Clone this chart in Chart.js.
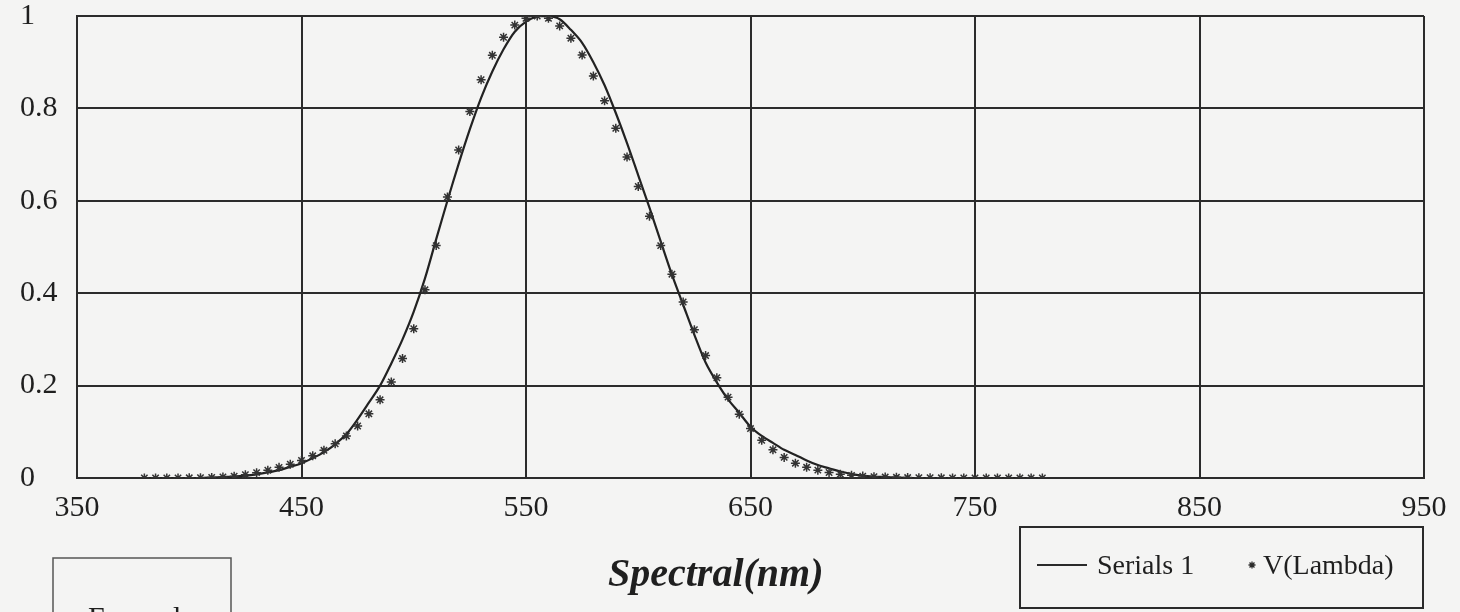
<!DOCTYPE html>
<html><head><meta charset="utf-8">
<script src="https://cdn.jsdelivr.net/npm/chart.js@4/dist/chart.umd.min.js"></script>
<style>html,body{margin:0;padding:0;background:#f4f4f3;}#wrap{width:1460px;height:612px;position:relative;}</style>
</head><body><div id="wrap"><canvas id="c" width="1460" height="612"></canvas></div>
<script>
const wavelengths = [380,385,390,395,400,405,410,415,420,425,430,435,440,445,450,455,460,465,470,475,480,485,490,495,500,505,510,515,520,525,530,535,540,545,550,555,560,565,570,575,580,585,590,595,600,605,610,615,620,625,630,635,640,645,650,655,660,665,670,675,680,685,690,695,700,705,710,715,720,725,730,735,740,745,750,755,760,765,770,775,780];
const serials1 = [0,0,0,0,0,0,
0.001,0.002,0.003,0.005,0.008,0.012,0.017,0.024,0.032,0.043,
0.056,0.073,0.095,0.127,0.163,0.2,0.248,0.3,0.36,0.432,
0.517,0.6,0.68,0.755,0.823,0.88,0.928,0.966,0.988,0.999,
1.0,0.993,0.97,0.942,0.9,0.85,0.79,0.725,0.655,0.585,
0.512,0.44,0.375,0.31,0.25,0.207,0.17,0.141,0.111,0.091,
0.076,0.061,0.05,0.038,0.028,0.021,0.014,0.009,0.005,0.003,
0.002,0.001,
0,0,0,0,0,0,0,0,0,0,0,0,0];
const vLambda = [0.00004,0.00006,0.00012,0.00022,0.0004,0.00064,0.0012,0.0022,0.004,0.0073,
0.0116,0.0168,0.023,0.0298,0.038,0.048,0.06,0.0739,0.091,0.1126,
0.139,0.1693,0.208,0.2586,0.323,0.4073,0.503,0.6082,0.71,0.7932,
0.862,0.9149,0.954,0.9803,0.995,1.0,0.995,0.9786,0.952,0.9154,
0.87,0.8163,0.757,0.6949,0.631,0.5668,0.503,0.4412,0.381,0.321,
0.265,0.217,0.175,0.1382,0.107,0.0816,0.061,0.0446,0.032,0.0232,
0.017,0.0119,0.0082,0.0057,0.0041,0.0029,0.0021,0.0015,0.001,0.0007,
0.0005,0.0004,0.0002,0.0002,0.0001,0.0001,0.0001,0,0,0,
0];
const xTicks = [350,450,550,650,750,850,950];
const yTicks = [0,0.2,0.4,0.6,0.8,1];
const seriesNames = ['Serials 1','V(Lambda)'];
const axisTitle = 'Spectral(nm)';
const boxLabel = 'Example';

const INK = '#1f1f1f';
const FONT = '"Liberation Serif", "Times New Roman", serif';

const paper = {
  id: 'paper',
  beforeDraw(chart) {
    const {ctx, width, height} = chart;
    ctx.save();
    ctx.fillStyle = '#f4f4f3';
    ctx.fillRect(0, 0, width, height);
    ctx.restore();
  },
  afterDraw(chart) {
    const ctx = chart.ctx;
    ctx.save();
    // axis title
    ctx.fillStyle = INK;
    ctx.font = 'italic bold 40px ' + FONT;
    ctx.textAlign = 'left';
    ctx.textBaseline = 'alphabetic';
    ctx.fillText(axisTitle, 608, 586);
    // legend box
    ctx.strokeStyle = '#2a2a2a';
    ctx.lineWidth = 2;
    ctx.strokeRect(1020, 527, 403, 81);
    ctx.beginPath();
    ctx.moveTo(1037, 565); ctx.lineTo(1087, 565);
    ctx.stroke();
    ctx.font = '28px ' + FONT;
    ctx.fillText(chart.data.datasets[0].label, 1097, 574);
    ctx.lineWidth = 1.3;
    Chart.helpers.drawPoint(ctx, {pointStyle: 'star', radius: 3.5, rotation: 0, borderWidth: 1.3}, 1252, 565);
    ctx.fillText(chart.data.datasets[1].label, 1263, 574);
    // left box
    ctx.strokeStyle = '#555';
    ctx.lineWidth = 1.5;
    ctx.beginPath();
    ctx.moveTo(53, 620); ctx.lineTo(53, 558); ctx.lineTo(231, 558); ctx.lineTo(231, 620);
    ctx.stroke();
    ctx.font = '30px ' + FONT;
    ctx.textBaseline = 'top';
    ctx.fillText(boxLabel, 88, 604);
    ctx.restore();
  }
};

new Chart(document.getElementById('c'), {
  type: 'line',
  data: {
    datasets: [
      {
        label: seriesNames[0],
        data: wavelengths.map((w, i) => ({x: w, y: serials1[i]})),
        borderColor: '#222',
        borderWidth: 2.2,
        pointRadius: 0,
        tension: 0.3,
        order: 2
      },
      {
        label: seriesNames[1],
        data: wavelengths.map((w, i) => ({x: w, y: vLambda[i]})),
        showLine: false,
        pointStyle: 'star',
        pointRadius: 4.5,
        pointBorderWidth: 1.5,
        pointBorderColor: '#333',
        pointBackgroundColor: '#333',
        borderColor: '#333',
        order: 1
      }
    ]
  },
  options: {
    responsive: false,
    animation: false,
    layout: {padding: {left: 20, right: 36, top: 16, bottom: 0}},
    plugins: {legend: {display: false}, tooltip: {enabled: false}},
    scales: {
      x: {
        type: 'linear',
        min: xTicks[0], max: xTicks[xTicks.length - 1],
        afterBuildTicks: s => { s.ticks = xTicks.map(v => ({value: v})); },
        afterFit: s => { s.height = 134; s.paddingLeft = 0; s.paddingRight = 0; },
        grid: {color: '#2b2b2b', lineWidth: 2, drawTicks: false},
        border: {color: '#2b2b2b', width: 2},
        ticks: {color: INK, font: {family: FONT, size: 30}, padding: 12, maxRotation: 0, autoSkip: false}
      },
      y: {
        min: yTicks[0], max: yTicks[yTicks.length - 1],
        afterBuildTicks: s => { s.ticks = yTicks.map(v => ({value: v})); },
        afterFit: s => { s.width = 57; s.paddingTop = 0; s.paddingBottom = 0; },
        grid: {color: '#2b2b2b', lineWidth: 2, drawTicks: false},
        border: {color: '#2b2b2b', width: 2},
        ticks: {color: INK, font: {family: FONT, size: 30}, crossAlign: 'far', padding: 8, callback: v => String(v)}
      }
    }
  },
  plugins: [paper]
});
</script>
</body></html>
